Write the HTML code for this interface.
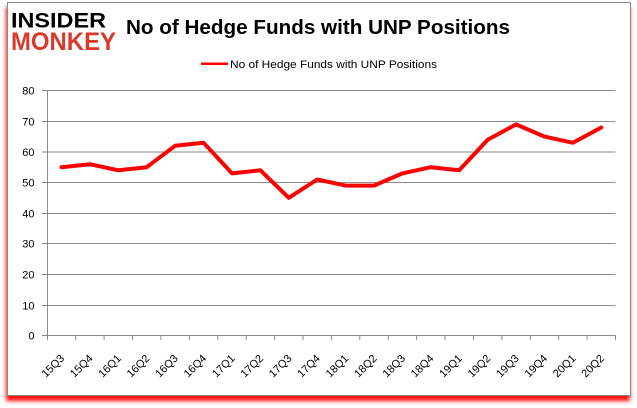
<!DOCTYPE html>
<html>
<head>
<meta charset="utf-8">
<style>
  html, body { margin: 0; padding: 0; background: #ffffff; }
  body { width: 637px; height: 408px; position: relative; overflow: hidden; }
  .frame {
    position: absolute; left: 7px; top: 2px; width: 622px; height: 392px;
    border: 1px solid #8a8a8a; background: #ffffff;
    box-shadow: -1px 5px 4px rgba(255,0,0,0.95);
  }
  svg { position: absolute; left: 0; top: 0; }
  text { font-family: "Liberation Sans", Arial, sans-serif; fill: #000; }
</style>
</head>
<body>
<div class="frame"></div>
<svg width="637" height="408" viewBox="0 0 637 408" xmlns="http://www.w3.org/2000/svg">
  <!-- Logo -->
  <text x="11" y="27.5" font-size="21.5" font-weight="bold" textLength="95" lengthAdjust="spacingAndGlyphs" style="fill:#000">INSIDER</text>
  <text x="11" y="50" font-size="25" font-weight="bold" textLength="105" lengthAdjust="spacingAndGlyphs" style="fill:#d83a2c">MONKEY</text>

  <!-- Title -->
  <text x="126" y="34" font-size="20" font-weight="bold" textLength="384" lengthAdjust="spacingAndGlyphs">No of Hedge Funds with UNP Positions</text>

  <!-- Legend -->
  <line x1="201" y1="63.7" x2="228" y2="63.7" stroke="#ff0000" stroke-width="2.5"/>
  <text x="230" y="68" font-size="11" textLength="207" lengthAdjust="spacingAndGlyphs">No of Hedge Funds with UNP Positions</text>

  <!-- Gridlines -->
  <g stroke="#8a8a8a" stroke-width="1" fill="none">
    <line x1="47.3" y1="90.5" x2="615.5" y2="90.5"/>
    <line x1="47.3" y1="121.5" x2="615.5" y2="121.5"/>
    <line x1="47.3" y1="152" x2="615.5" y2="152"/>
    <line x1="47.3" y1="182.5" x2="615.5" y2="182.5"/>
    <line x1="47.3" y1="213.5" x2="615.5" y2="213.5"/>
    <line x1="47.3" y1="243.5" x2="615.5" y2="243.5"/>
    <line x1="47.3" y1="274.5" x2="615.5" y2="274.5"/>
    <line x1="47.3" y1="305.5" x2="615.5" y2="305.5"/>
    <line x1="47.3" y1="335.5" x2="615.5" y2="335.5"/>
    <!-- y axis -->
    <line x1="47.5" y1="90.5" x2="47.5" y2="335.5"/>
    <!-- y ticks -->
    <line x1="42" y1="90.5" x2="47.5" y2="90.5"/>
    <line x1="42" y1="121.5" x2="47.5" y2="121.5"/>
    <line x1="42" y1="152" x2="47.5" y2="152"/>
    <line x1="42" y1="182.5" x2="47.5" y2="182.5"/>
    <line x1="42" y1="213.5" x2="47.5" y2="213.5"/>
    <line x1="42" y1="243.5" x2="47.5" y2="243.5"/>
    <line x1="42" y1="274.5" x2="47.5" y2="274.5"/>
    <line x1="42" y1="305.5" x2="47.5" y2="305.5"/>
    <line x1="42" y1="335.5" x2="47.5" y2="335.5"/>
    <!-- x ticks -->
    <line x1="47.5" y1="335.5" x2="47.5" y2="340"/>
    <line x1="75.7" y1="335.5" x2="75.7" y2="340"/>
    <line x1="104.1" y1="335.5" x2="104.1" y2="340"/>
    <line x1="132.5" y1="335.5" x2="132.5" y2="340"/>
    <line x1="160.9" y1="335.5" x2="160.9" y2="340"/>
    <line x1="189.4" y1="335.5" x2="189.4" y2="340"/>
    <line x1="217.8" y1="335.5" x2="217.8" y2="340"/>
    <line x1="246.2" y1="335.5" x2="246.2" y2="340"/>
    <line x1="274.6" y1="335.5" x2="274.6" y2="340"/>
    <line x1="303.0" y1="335.5" x2="303.0" y2="340"/>
    <line x1="331.4" y1="335.5" x2="331.4" y2="340"/>
    <line x1="359.8" y1="335.5" x2="359.8" y2="340"/>
    <line x1="388.2" y1="335.5" x2="388.2" y2="340"/>
    <line x1="416.6" y1="335.5" x2="416.6" y2="340"/>
    <line x1="445.0" y1="335.5" x2="445.0" y2="340"/>
    <line x1="473.5" y1="335.5" x2="473.5" y2="340"/>
    <line x1="501.9" y1="335.5" x2="501.9" y2="340"/>
    <line x1="530.3" y1="335.5" x2="530.3" y2="340"/>
    <line x1="558.7" y1="335.5" x2="558.7" y2="340"/>
    <line x1="587.1" y1="335.5" x2="587.1" y2="340"/>
    <line x1="615.5" y1="335.5" x2="615.5" y2="340"/>
  </g>

  <!-- Y labels -->
  <g font-size="11" text-anchor="end">
    <text x="34.5" y="94.5">80</text>
    <text x="34.5" y="125.5">70</text>
    <text x="34.5" y="156">60</text>
    <text x="34.5" y="186.5">50</text>
    <text x="34.5" y="217.5">40</text>
    <text x="34.5" y="247.5">30</text>
    <text x="34.5" y="278.5">20</text>
    <text x="34.5" y="309.5">10</text>
    <text x="34.5" y="339.5">0</text>
  </g>

  <!-- X labels -->
  <g font-size="11" text-anchor="end">
    <text transform="translate(65,359) rotate(-45)">15Q3</text>
    <text transform="translate(93.4,359) rotate(-45)">15Q4</text>
    <text transform="translate(121.8,359) rotate(-45)">16Q1</text>
    <text transform="translate(150.2,359) rotate(-45)">16Q2</text>
    <text transform="translate(178.6,359) rotate(-45)">16Q3</text>
    <text transform="translate(207.1,359) rotate(-45)">16Q4</text>
    <text transform="translate(235.5,359) rotate(-45)">17Q1</text>
    <text transform="translate(263.9,359) rotate(-45)">17Q2</text>
    <text transform="translate(292.3,359) rotate(-45)">17Q3</text>
    <text transform="translate(320.7,359) rotate(-45)">17Q4</text>
    <text transform="translate(349.1,359) rotate(-45)">18Q1</text>
    <text transform="translate(377.5,359) rotate(-45)">18Q2</text>
    <text transform="translate(405.9,359) rotate(-45)">18Q3</text>
    <text transform="translate(434.3,359) rotate(-45)">18Q4</text>
    <text transform="translate(462.7,359) rotate(-45)">19Q1</text>
    <text transform="translate(491.2,359) rotate(-45)">19Q2</text>
    <text transform="translate(519.6,359) rotate(-45)">19Q3</text>
    <text transform="translate(548.0,359) rotate(-45)">19Q4</text>
    <text transform="translate(576.4,359) rotate(-45)">20Q1</text>
    <text transform="translate(604.8,359) rotate(-45)">20Q2</text>
  </g>

  <!-- Series -->
  <polyline fill="none" stroke="#ff0000" stroke-width="4" stroke-linejoin="round" stroke-linecap="round"
    points="61.5,167.2 89.9,164.2 118.3,170.3 146.7,167.2 175.1,145.8 203.6,142.8 232.0,173.4 260.4,170.3 288.8,197.8 317.2,179.5 345.6,185.6 374.0,185.6 402.4,173.4 430.8,167.2 459.2,170.3 487.7,139.7 516.1,124.4 544.5,136.6 572.9,142.8 601.3,127.5"/>
</svg>
</body>
</html>
